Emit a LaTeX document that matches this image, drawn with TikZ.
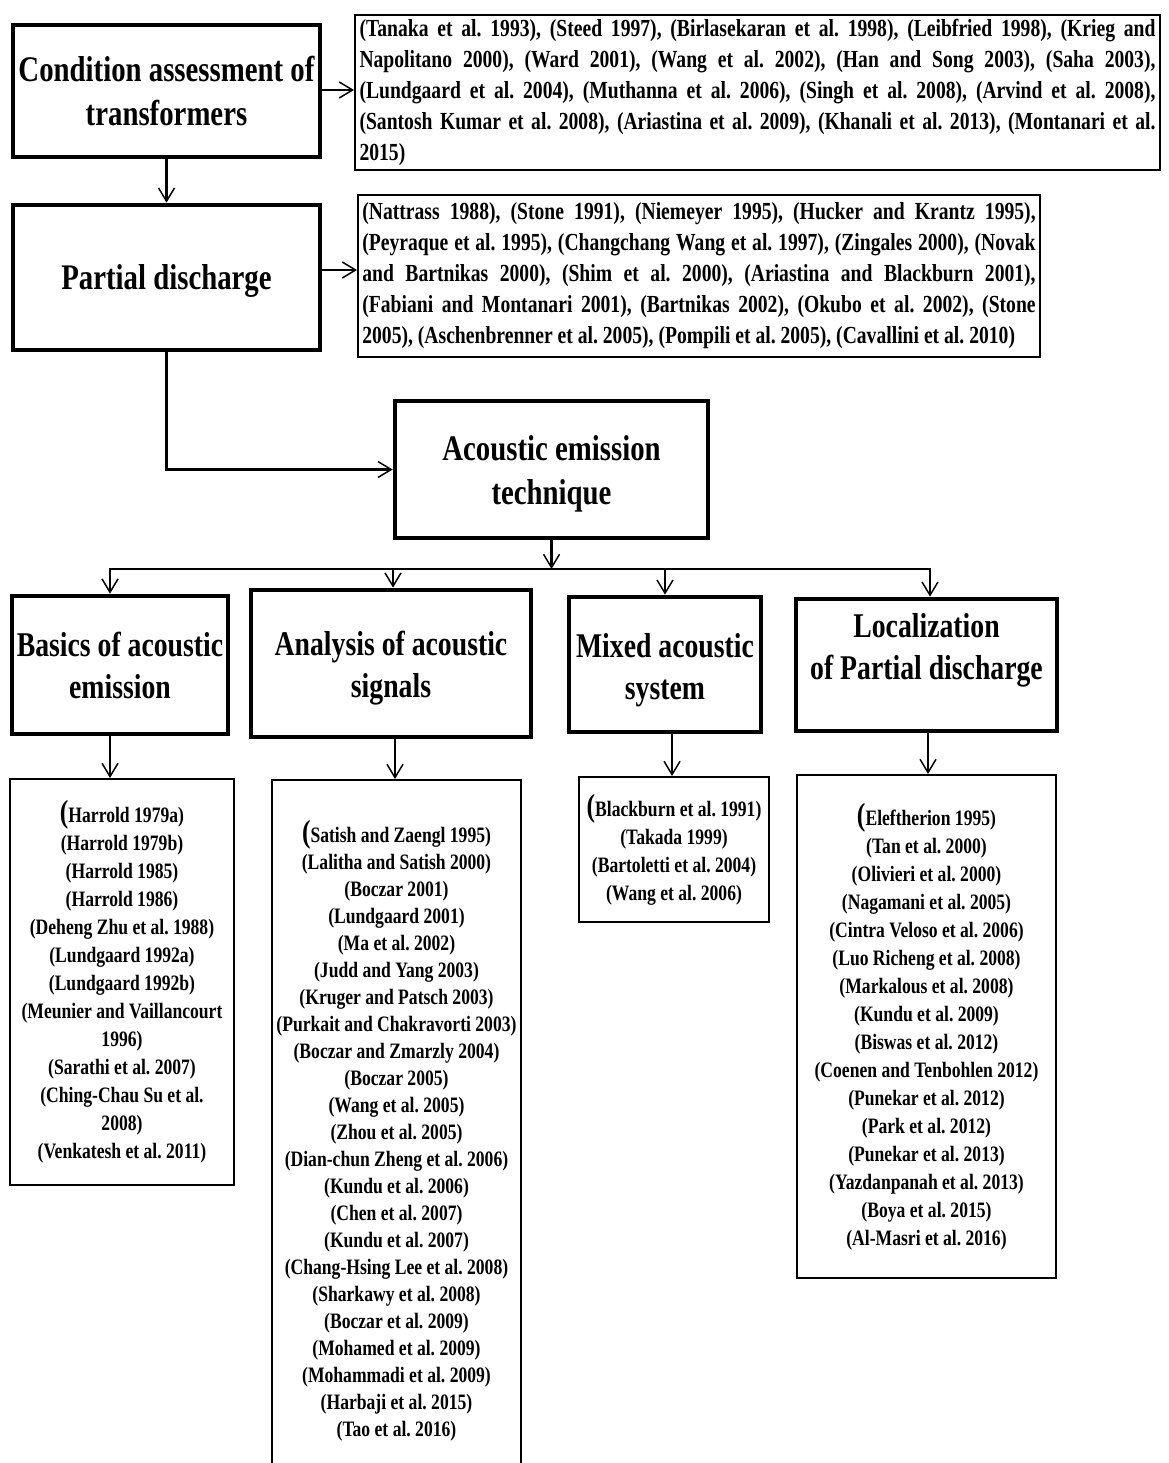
\documentclass[tikz,border=0pt]{standalone}
\usepackage{fontspec}
\setmainfont{Liberation Serif}[FakeStretch=0.8]
\usetikzlibrary{arrows.meta}

% slightly larger opening bracket that starts each reference list
\newcommand{\leadparen}{{\fontsize{24}{21}\selectfont(}}
% invisible strut that lowers a heading a little inside its box
\newcommand{\headstrut}[1]{\rule{0pt}{#1}}

\begin{document}
\frenchspacing
\begin{tikzpicture}[x=0.75pt,y=-0.75pt,
  heading/.style={draw, line width=3.5pt, align=center, inner sep=0pt,
    font=\bfseries\fontsize{26}{31.5}\selectfont},
  bigheading/.style={heading, font=\bfseries\fontsize{27}{33}\selectfont},
  refpara/.style={draw, line width=1.5pt, align=justify, inner xsep=3pt, inner ysep=0pt,
    font=\bfseries\fontsize{18.4}{23.25}\selectfont},
  refcol/.style={draw, line width=1.5pt, align=center, inner sep=0pt,
    font=\bfseries\fontsize{16.5}{21}\selectfont},
  conn/.style={line width=2.2pt},
  arr/.style={conn, -{Straight Barb[length=10pt,width=12pt,line width=1.1pt]}},
]
\fill[white] (0,0) rectangle (1168,1463);
\useasboundingbox (0,0) rectangle (1168,1463);

% ---- top chain ----
\node[bigheading, minimum width=230.25pt, minimum height=99pt] (cond) at (166.5,91)
  {Condition assessment of\\transformers};
\node[refpara, minimum width=603.75pt, minimum height=116.25pt, text width=597pt] (condrefs) at (757.5,92.5)
  {\tolerance=10000 (Tanaka et al. 1993), (Steed 1997), (Birlasekaran et al. 1998), (Leibfried 1998), (Krieg and\linebreak
   Napolitano 2000), (Ward 2001), (Wang et al. 2002), (Han and Song 2003), (Saha 2003),\linebreak
   (Lundgaard et al. 2004), (Muthanna et al. 2006), (Singh et al. 2008), (Arvind et al. 2008),\linebreak
   (Santosh Kumar et al. 2008), (Ariastina et al. 2009), (Khanali et al. 2013), (Montanari et al.\linebreak
   2015)};

\node[bigheading, minimum width=230.25pt, minimum height=108.75pt] (pd) at (166.5,277.5)
  {\headstrut{24.3pt}Partial discharge};
\node[refpara, minimum width=511.5pt, minimum height=121.5pt, text width=505pt] (pdrefs) at (699,276)
  {\tolerance=10000 (Nattrass 1988), (Stone 1991), (Niemeyer 1995), (Hucker and Krantz 1995),\linebreak
   (Peyraque et al. 1995), (Changchang Wang et al. 1997), (Zingales 2000), (Novak\linebreak
   and Bartnikas 2000), (Shim et al. 2000), (Ariastina and Blackburn 2001),\linebreak
   (Fabiani and Montanari 2001), (Bartnikas 2002), (Okubo et al. 2002), (Stone\linebreak
   2005), (Aschenbrenner et al. 2005), (Pompili et al. 2005), (Cavallini et al. 2010)};

\node[bigheading, minimum width=234.75pt, minimum height=102.75pt] (ae) at (551.5,469.5)
  {\headstrut{25pt}Acoustic emission\\technique};

% ---- branches ----
\node[heading, minimum width=162pt, minimum height=103.5pt] (basics) at (120,665)
  {\headstrut{19pt}Basics of acoustic\\emission};
\node[heading, minimum width=210pt, minimum height=110.25pt] (analysis) at (391,663.5)
  {\headstrut{25pt}Analysis of acoustic\\signals};
\node[heading, minimum width=144pt, minimum height=101.25pt] (mixed) at (665,664.5)
  {\headstrut{26.6pt}Mixed acoustic\\system};
\node[heading, minimum width=195.75pt, minimum height=99pt] (local) at (926.5,665)
  {\headstrut{22pt}Localization\\of Partial discharge\\\mbox{}};

% ---- reference lists ----
\node[refcol, minimum width=168pt, minimum height=304.5pt] (basicsrefs) at (122,982)
  {\leadparen Harrold 1979a)\\(Harrold 1979b)\\(Harrold 1985)\\(Harrold 1986)\\
   (Deheng Zhu et al. 1988)\\(Lundgaard 1992a)\\(Lundgaard 1992b)\\
   (Meunier and Vaillancourt\\1996)\\(Sarathi et al. 2007)\\(Ching-Chau Su et al.\\2008)\\
   (Venkatesh et al. 2011)};
\node[refcol, minimum width=186.75pt, minimum height=526.5pt,
  font=\bfseries\fontsize{16.5}{20.25}\selectfont] (analysisrefs) at (396.5,1131)
  {\leadparen Satish and Zaengl 1995)\\(Lalitha and Satish 2000)\\(Boczar 2001)\\(Lundgaard 2001)\\
   (Ma et al. 2002)\\(Judd and Yang 2003)\\(Kruger and Patsch 2003)\\(Purkait and Chakravorti 2003)\\
   (Boczar and Zmarzly 2004)\\(Boczar 2005)\\(Wang et al. 2005)\\(Zhou et al. 2005)\\
   (Dian-chun Zheng et al. 2006)\\(Kundu et al. 2006)\\(Chen et al. 2007)\\(Kundu et al. 2007)\\
   (Chang-Hsing Lee et al. 2008)\\(Sharkawy et al. 2008)\\(Boczar et al. 2009)\\
   (Mohamed et al. 2009)\\(Mohammadi et al. 2009)\\(Harbaji et al. 2015)\\(Tao et al. 2016)};
\node[refcol, minimum width=142.5pt, minimum height=108.75pt] (mixedrefs) at (674,849.5)
  {\leadparen Blackburn et al. 1991)\\(Takada 1999)\\(Bartoletti et al. 2004)\\(Wang et al. 2006)};
\node[refcol, minimum width=194.25pt, minimum height=377.25pt] (localrefs) at (926.5,1026.5)
  {\leadparen Eleftherion 1995)\\(Tan et al. 2000)\\(Olivieri et al. 2000)\\(Nagamani et al. 2005)\\
   (Cintra Veloso et al. 2006)\\(Luo Richeng et al. 2008)\\(Markalous et al. 2008)\\
   (Kundu et al. 2009)\\(Biswas et al. 2012)\\(Coenen and Tenbohlen 2012)\\(Punekar et al. 2012)\\
   (Park et al. 2012)\\(Punekar et al. 2013)\\(Yazdanpanah et al. 2013)\\(Boya et al. 2015)\\
   (Al-Masri et al. 2016)};

% ---- connectors ----
\coordinate (r1) at (0,90);
\coordinate (r2) at (0,270);
\draw[arr] (cond.east |- r1) -- (condrefs.west |- r1);
\draw[arr] (cond.south) -- (pd.north);
\draw[arr] (pd.east |- r2) -- (pdrefs.west |- r2);
\draw[arr] (pd.south) |- (ae.west);

\coordinate (b1) at (110,569);
\coordinate (b2) at (393,569);
\coordinate (b3) at (665,569);
\coordinate (b4) at (930,569);
\draw[arr] (ae.south) -- (ae.south |- b1);
\draw[conn] ([xshift=-1.1pt]b1) -- ([xshift=1.1pt]b4);
\draw[arr] (b1) -- (b1 |- basics.north);
\draw[arr] (b2) -- (b2 |- analysis.north);
\draw[arr] (b3) -- (b3 |- mixed.north);
\draw[arr] (b4) -- (b4 |- local.north);

\coordinate (c1) at (110,0);
\coordinate (c2) at (395,0);
\coordinate (c3) at (672,0);
\coordinate (c4) at (928,0);
\draw[arr] (c1 |- basics.south) -- (c1 |- basicsrefs.north);
\draw[arr] (c2 |- analysis.south) -- (c2 |- analysisrefs.north);
\draw[arr] (c3 |- mixed.south) -- (c3 |- mixedrefs.north);
\draw[arr] (c4 |- local.south) -- (c4 |- localrefs.north);
\end{tikzpicture}
\end{document}
